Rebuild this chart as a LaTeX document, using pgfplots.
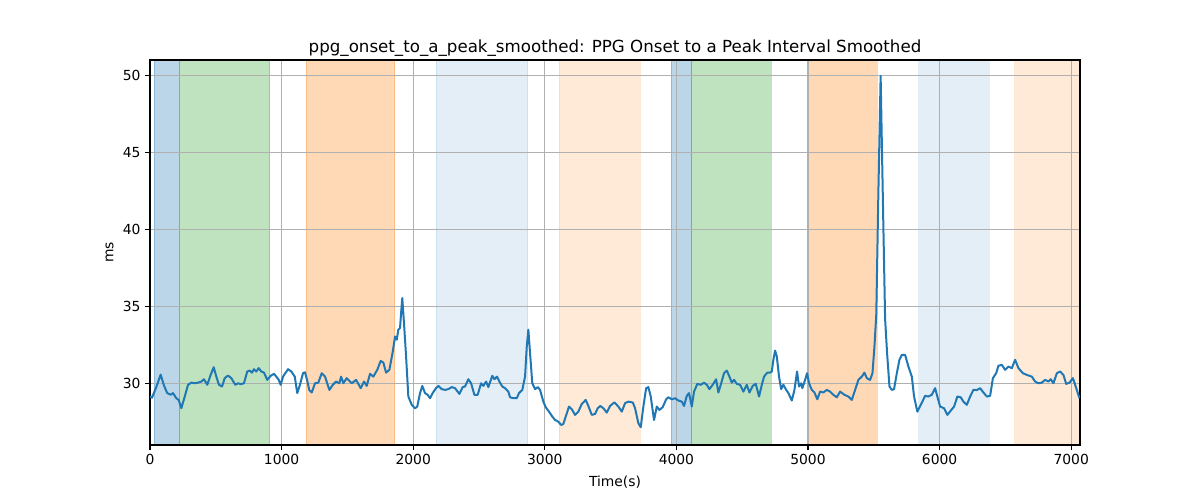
\documentclass[border=0pt]{standalone}
\usepackage{pgfplots}
\pgfplotsset{compat=1.18}
\usepackage{fontspec}
\setmainfont{DejaVu Sans}
\definecolor{tabblue}{HTML}{1F77B4}
\definecolor{taborange}{HTML}{FF7F0E}
\definecolor{tabgreen}{HTML}{2CA02C}
\definecolor{gridgray}{HTML}{B0B0B0}
\begin{document}
\begin{tikzpicture}
\begin{axis}[
  set layers=standard,
  scale only axis,
  width=697.5pt, height=288.75pt,
  xmin=0, xmax=7067, ymin=26.04, ymax=50.98,
  xtick={0,1000,2000,3000,4000,5000,6000,7000},
  ytick={30,35,40,45,50},
  scaled x ticks=false,
  xticklabel style={/pgf/number format/1000 sep=},
  /pgf/number format/assume math mode=true,
  tick label style={font=\fontsize{10.4}{12}\selectfont},
  label style={font=\fontsize{10.4}{12}\selectfont},
  title style={font=\fontsize{12.5}{15}\selectfont, yshift=-6.5pt},
  title={ppg\_onset\_to\_a\_peak\_smoothed: PPG Onset to a Peak Interval Smoothed},
  xlabel={Time(s)}, ylabel={ms},
  xlabel style={yshift=-1pt},
  ylabel style={yshift=0pt},
  grid=major,
  major grid style={gridgray, line width=0.8pt},
  tick align=outside,
  tick pos=left,
  major tick length=3.6pt,
  every tick/.style={black, line width=0.8pt},
  axis line style={black, line width=0.8pt},
]
% shaded regions
\addplot[on layer=axis background, fill=tabblue, fill opacity=0.3, draw=tabblue, draw opacity=0.3, line width=0.75pt] coordinates {(33,26.04) (33,50.98) (223,50.98) (223,26.04)} -- cycle;
\addplot[on layer=axis background, fill=tabgreen, fill opacity=0.3, draw=tabgreen, draw opacity=0.3, line width=0.75pt] coordinates {(223,26.04) (223,50.98) (910,50.98) (910,26.04)} -- cycle;
\addplot[on layer=axis background, fill=taborange, fill opacity=0.3, draw=taborange, draw opacity=0.3, line width=0.75pt] coordinates {(1186,26.04) (1186,50.98) (1861,50.98) (1861,26.04)} -- cycle;
\addplot[on layer=axis background, fill=tabblue, fill opacity=0.12, draw=tabblue, draw opacity=0.12, line width=0.75pt] coordinates {(2175,26.04) (2175,50.98) (2872,50.98) (2872,26.04)} -- cycle;
\addplot[on layer=axis background, fill=taborange, fill opacity=0.16, draw=taborange, draw opacity=0.16, line width=0.75pt] coordinates {(3110,26.04) (3110,50.98) (3726,50.98) (3726,26.04)} -- cycle;
\addplot[on layer=axis background, fill=tabblue, fill opacity=0.3, draw=tabblue, draw opacity=0.3, line width=0.75pt] coordinates {(3962,26.04) (3962,50.98) (4116,50.98) (4116,26.04)} -- cycle;
\addplot[on layer=axis background, fill=tabgreen, fill opacity=0.3, draw=tabgreen, draw opacity=0.3, line width=0.75pt] coordinates {(4116,26.04) (4116,50.98) (4722,50.98) (4722,26.04)} -- cycle;
\addplot[on layer=axis background, fill=taborange, fill opacity=0.3, draw=taborange, draw opacity=0.3, line width=0.75pt] coordinates {(5014,26.04) (5014,50.98) (5526,50.98) (5526,26.04)} -- cycle;
\addplot[on layer=axis background, fill=tabblue, fill opacity=0.12, draw=tabblue, draw opacity=0.12, line width=0.75pt] coordinates {(5840,26.04) (5840,50.98) (6378,50.98) (6378,26.04)} -- cycle;
\addplot[on layer=axis background, fill=taborange, fill opacity=0.16, draw=none] coordinates {(6565,26.04) (6565,50.98) (7067,50.98) (7067,26.04)} -- cycle;
% signal
\addplot[tabblue, line width=1.5pt, line join=round, mark=none] coordinates {
(0,29.18) (15,29.1) (48,29.8) (81,30.6) (106,29.9) (131,29.4) (157,29.3) (175,29.4)
(200,29.07) (218,28.96) (238,28.42) (264,29.18) (289,29.94) (314,30.08) (340,30.04)
(365,30.08) (390,30.15) (410,30.3) (435,29.94) (461,30.58) (484,31.08) (504,30.47)
(524,29.94) (547,29.83) (568,30.37) (593,30.54) (618,30.37) (648,29.94) (669,30.04)
(689,29.98) (714,30.04) (739,30.8) (758,30.86) (775,30.73) (790,30.95) (808,30.8)
(826,31.02) (846,30.8) (866,30.73) (891,30.26) (917,30.52) (942,30.65) (960,30.47)
(978,30.26) (993,29.94) (1011,30.47) (1028,30.69) (1049,30.95) (1074,30.8) (1100,30.47)
(1119,29.4) (1138,29.9) (1163,30.7) (1178,30.75) (1195,30.2) (1210,29.61) (1229,29.44)
(1254,30.04) (1279,30.08) (1305,30.69) (1330,30.47) (1363,29.61) (1389,29.94) (1414,30.15)
(1439,30.04) (1452,30.47) (1469,30.04) (1495,30.37) (1533,30.04) (1566,30.26) (1601,29.72)
(1626,30.15) (1647,29.87) (1672,30.65) (1697,30.47) (1727,30.91) (1753,31.49) (1773,31.38)
(1794,30.73) (1819,30.91) (1845,32.1) (1862,33.07) (1875,32.86) (1887,33.51) (1900,33.62)
(1908,34.59) (1917,35.56) (1930,33.94) (1946,31.77) (1963,29.18) (1989,28.64) (2014,28.42)
(2031,28.53) (2052,29.4) (2069,29.87) (2090,29.4) (2110,29.29) (2128,29.07) (2148,29.4)
(2173,29.72) (2191,29.87) (2217,29.66) (2242,29.61) (2267,29.66) (2293,29.79) (2318,29.72)
(2351,29.35) (2376,29.79) (2394,29.83) (2419,30.3) (2440,30.04) (2465,29.29) (2490,29.29)
(2516,30.04) (2533,29.87) (2554,30.15) (2571,29.79) (2601,30.52) (2617,30.3) (2637,30.47)
(2655,30.15) (2677,29.83) (2698,29.72) (2723,29.5) (2736,29.13) (2761,29.07) (2787,29.07)
(2804,29.4) (2829,29.61) (2850,30.47) (2863,32.42) (2875,33.51) (2888,31.99) (2905,30.04)
(2926,29.66) (2947,29.79) (2964,29.61) (2989,28.85) (3007,28.49) (3032,28.2) (3057,27.88)
(3078,27.66) (3103,27.55) (3124,27.34) (3141,27.4) (3159,27.88) (3184,28.53) (3205,28.36)
(3230,27.99) (3255,28.2) (3281,28.7) (3311,28.96) (3331,28.57) (3357,27.99) (3382,28.05)
(3402,28.42) (3422,28.57) (3445,28.42) (3471,28.14) (3496,28.57) (3529,28.8) (3559,28.53)
(3585,28.2) (3610,28.75) (3635,28.85) (3669,28.79) (3686,28.42) (3711,27.45) (3729,27.19)
(3749,28.53) (3770,29.72) (3787,29.79) (3805,29.18) (3830,27.66) (3851,28.53) (3871,28.31)
(3896,28.49) (3922,29.0) (3939,29.13) (3965,29.0) (3990,29.07) (4015,28.92) (4041,28.85)
(4058,28.57) (4079,29.22) (4096,29.4) (4117,28.53) (4134,29.5) (4159,30.0) (4185,29.94)
(4210,30.08) (4231,29.94) (4251,29.66) (4276,29.94) (4302,30.3) (4319,29.44) (4337,29.94)
(4362,30.69) (4383,30.86) (4403,30.47) (4421,30.08) (4438,30.26) (4459,30.0) (4484,29.94)
(4509,29.5) (4535,29.94) (4555,29.44) (4580,29.87) (4603,30.0) (4628,29.18) (4649,29.94)
(4666,30.47) (4691,30.73) (4712,30.73) (4725,30.8) (4737,31.56) (4750,32.16) (4763,31.77)
(4780,30.47) (4796,29.66) (4813,29.94) (4831,29.66) (4851,29.4) (4877,28.92) (4897,29.61)
(4917,30.8) (4932,29.83) (4948,30.04) (4957,29.72) (4978,30.26) (4993,30.69) (5008,30.04)
(5029,29.61) (5049,29.44) (5071,29.0) (5092,29.5) (5117,29.44) (5143,29.61) (5168,29.5)
(5193,29.29) (5219,29.13) (5244,29.5) (5277,29.29) (5307,29.18) (5333,28.96) (5358,29.61)
(5383,30.26) (5409,30.47) (5429,30.73) (5447,30.37) (5472,30.26) (5490,30.69) (5505,32.42)
(5519,34.5) (5534,42.0) (5552,49.95) (5571,41.0) (5586,34.2) (5601,32.0) (5619,29.83)
(5637,29.61) (5654,29.66) (5675,30.69) (5695,31.56) (5713,31.88) (5738,31.88) (5763,31.12)
(5789,30.47) (5806,29.18) (5831,28.2) (5857,28.64) (5890,29.22) (5915,29.18) (5941,29.29)
(5966,29.72) (5983,29.18) (6004,28.53) (6034,28.42) (6059,27.99) (6085,28.27) (6110,28.53)
(6135,29.18) (6161,29.13) (6181,28.85) (6207,28.64) (6232,29.18) (6257,29.61) (6283,29.6)
(6308,29.72) (6333,29.44) (6359,29.18) (6384,29.22) (6405,30.37) (6430,30.69) (6447,31.17)
(6473,31.23) (6498,30.91) (6523,31.12) (6549,31.02) (6574,31.56) (6599,31.02) (6633,30.69)
(6663,30.58) (6701,30.47) (6726,30.15) (6751,30.04) (6777,30.08) (6802,30.26) (6827,30.15)
(6845,30.3) (6865,30.04) (6891,30.69) (6916,30.8) (6941,30.58) (6962,30.0) (6987,30.08)
(7013,30.37) (7030,29.94) (7063,29.07)
};
\end{axis}
\path[use as bounding box] (-112.5pt,-41.25pt) rectangle (787.5pt,333.75pt);
\end{tikzpicture}
\end{document}
